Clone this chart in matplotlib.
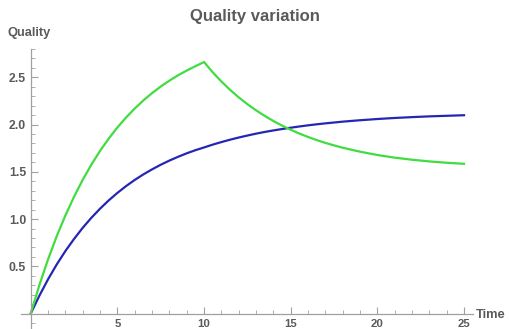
import matplotlib
matplotlib.use("Agg")
import matplotlib.pyplot as plt
from matplotlib.ticker import MultipleLocator, FixedLocator

# ---- data ----
time = [0, 0.5, 1, 1.5, 2, 2.5, 3, 3.5, 4, 4.5, 5, 5.5, 6, 6.5, 7, 7.5, 8, 8.5,
        9, 9.5, 10, 10.5, 11, 11.5, 12, 12.5, 13, 13.5, 14, 14.5, 15, 15.5, 16,
        16.5, 17, 17.5, 18, 19, 20, 21, 22, 23, 24, 25]
quality_blue = [0, 0.190, 0.363, 0.520, 0.662, 0.790, 0.908, 1.014, 1.110, 1.198,
                1.277, 1.349, 1.414, 1.473, 1.526, 1.575, 1.619, 1.659, 1.696,
                1.729, 1.758, 1.788, 1.815, 1.840, 1.863, 1.884, 1.904, 1.922,
                1.938, 1.953, 1.967, 1.980, 1.992, 2.003, 2.013, 2.022, 2.031,
                2.046, 2.059, 2.070, 2.079, 2.087, 2.093, 2.099]
quality_green = [0, 0.302, 0.574, 0.819, 1.039, 1.237, 1.416, 1.577, 1.722, 1.852,
                 1.970, 2.075, 2.170, 2.256, 2.333, 2.403, 2.465, 2.522, 2.572,
                 2.618, 2.662, 2.553, 2.456, 2.368, 2.288, 2.216, 2.151, 2.092,
                 2.038, 1.989, 1.945, 1.905, 1.869, 1.836, 1.806, 1.780, 1.755,
                 1.713, 1.678, 1.650, 1.628, 1.610, 1.596, 1.585]
x_major = [5, 10, 15, 20, 25]
y_major = [0.5, 1.0, 1.5, 2.0, 2.5]
title = "Quality variation"
xlabel = "Time"
ylabel = "Quality"

plt.rcParams["font.family"] = ["Liberation Sans", "DejaVu Sans"]

W, H = 509, 329
# data: x from -0.58 to 25.5, y from -0.153 to 2.80
x0_px, x1_px = 20.7, 472.7
y0_px, y1_px = 328.0, 49.0
fig = plt.figure(figsize=(W / 100, H / 100), dpi=100)
ax = fig.add_axes([x0_px / W, 1 - y0_px / H, (x1_px - x0_px) / W, (y0_px - y1_px) / H])

blue = "#2626b4"
green = "#40dc40"
txt = "#5a5a5a"
axc = "#a0a0a0"

ax.plot(time, quality_blue, color=blue, lw=1.6, solid_joinstyle="round")
ax.plot(time, quality_green, color=green, lw=1.6, solid_joinstyle="miter")

ax.set_xlim(-0.58, 25.5)
ax.set_ylim(-0.153, 2.80)

for s in ["top", "right"]:
    ax.spines[s].set_visible(False)
ax.spines["left"].set_position(("data", 0))
ax.spines["bottom"].set_position(("data", 0))
for s in ["left", "bottom"]:
    ax.spines[s].set_color(axc)
    ax.spines[s].set_linewidth(0.9)

ax.xaxis.set_major_locator(FixedLocator(x_major))
ax.xaxis.set_minor_locator(MultipleLocator(1))
ax.yaxis.set_major_locator(FixedLocator(y_major))
ax.yaxis.set_minor_locator(MultipleLocator(0.1))
ax.set_xticklabels([str(v) for v in x_major])
ax.set_yticklabels([f"{v:.1f}" for v in y_major])

ax.tick_params(which="major", direction="in", length=5, width=0.8, color=axc,
               labelcolor=txt)
ax.tick_params(axis="x", which="major", pad=3.6, labelsize=8.2)
ax.tick_params(axis="y", which="major", pad=3.3, labelsize=8.8)
ax.tick_params(which="minor", direction="in", length=2.8, width=0.6, color=axc)
for lab in ax.get_xticklabels() + ax.get_yticklabels():
    lab.set_fontweight("bold")

fig.text(255 / W, 1 - 16 / H, title, ha="center", va="center",
         fontsize=12, fontweight="bold", color=txt)
fig.text(8 / W, 1 - 33 / H, ylabel, ha="left", va="center",
         fontsize=9.3, fontweight="bold", color=txt)
fig.text(476 / W, 1 - 315 / H, xlabel, ha="left", va="center",
         fontsize=9.3, fontweight="bold", color=txt)

fig.savefig("out.png", dpi=100)
